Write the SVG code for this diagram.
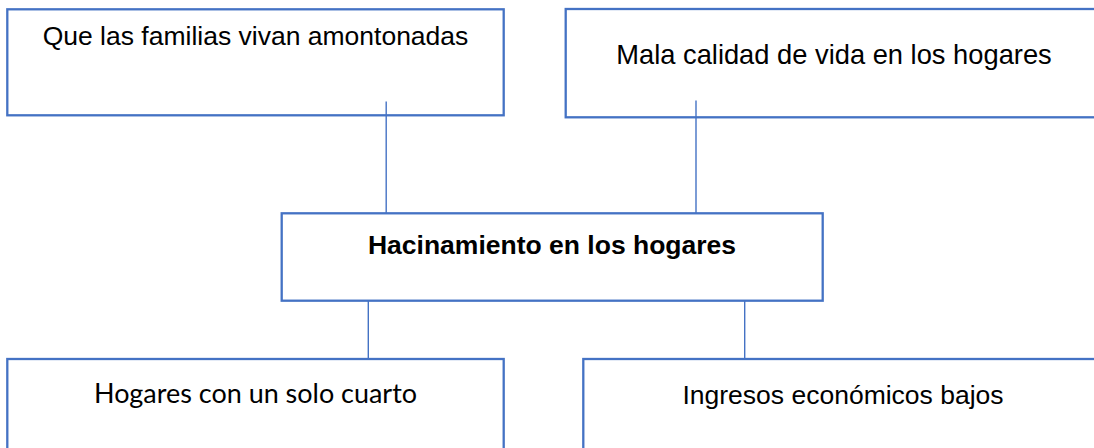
<svg xmlns="http://www.w3.org/2000/svg" width="1094" height="448" viewBox="0 0 1094 448">
<style>
.box{fill:#ffffff;stroke:#4472C4;stroke-width:2.3}
.t{font-family:"Liberation Sans",Arial,sans-serif;font-size:26.5px;fill:#000;text-anchor:middle}
.b{font-weight:bold}
.cal{font-family:Lato,"Liberation Sans",sans-serif;font-size:26px}
.con{stroke:#4472C4;stroke-width:1.4;fill:none}
</style>
<rect x="0" y="0" width="1094" height="448" fill="#ffffff"/>
<g id="node-familias">
<rect class="box" x="7.3" y="9.3" width="496.4" height="106"/>
<text class="t" x="255.5" y="45.3">Que las familias vivan amontonadas</text>
</g>
<g id="node-calidad">
<rect class="box" x="565.7" y="9" width="537" height="108.3"/>
<text class="t" x="834" y="63.5" style="font-size:27.3px">Mala calidad de vida en los hogares</text>
</g>
<g id="node-hacinamiento">
<rect class="box" x="281.7" y="213.3" width="541" height="87.4"/>
<text class="t b" x="552" y="254.3">Hacinamiento en los hogares</text>
</g>
<g id="node-cuarto">
<rect class="box" x="7.3" y="359" width="496.4" height="100"/>
<text class="t cal" x="255.5" y="403" textLength="323" lengthAdjust="spacingAndGlyphs">Hogares con un solo cuarto</text>
</g>
<g id="node-ingresos">
<rect class="box" x="583.3" y="359" width="520" height="100"/>
<text class="t" x="843" y="403.5">Ingresos económicos bajos</text>
</g>
<g id="connectors">
<line class="con" x1="386.2" y1="101.5" x2="386.2" y2="213"/>
<line class="con" x1="696" y1="100.5" x2="696" y2="213"/>
<line class="con" x1="368.3" y1="301" x2="368.3" y2="359"/>
<line class="con" x1="744.7" y1="301" x2="744.7" y2="359"/>
</g>
</svg>
